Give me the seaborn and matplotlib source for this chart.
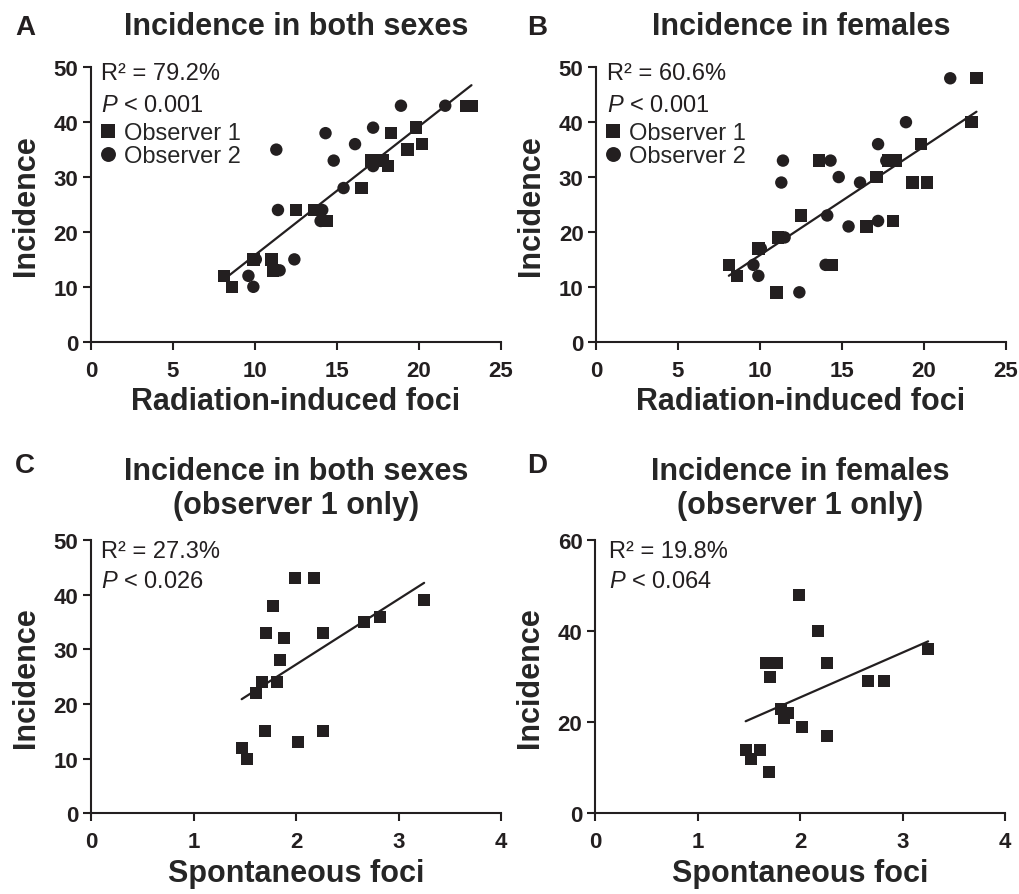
import numpy as np
import pandas as pd
import matplotlib
matplotlib.use("Agg")
import matplotlib.pyplot as plt
import seaborn as sns

# one value per mouse strain, same order in every list
radiation_obs1 = [8.1, 8.6, 9.9, 11.0, 11.1, 12.5, 13.6, 14.4, 16.5, 17.1, 17.8, 18.1, 18.3, 19.3, 19.8, 20.2, 22.9, 23.2]
radiation_obs2 = [9.6, 9.9, 10.05, 12.4, 11.5, 14.1, 11.4, 14.0, 15.4, 14.8, 17.7, 17.2, 14.3, 11.3, 17.2, 16.1, 18.9, 21.6]
spontaneous_obs1 = [1.47, 1.52, 2.26, 1.70, 2.02, 1.81, 1.67, 1.61, 1.84, 1.71, 2.26, 1.88, 1.78, 2.66, 3.25, 2.82, 2.18, 1.99]
incidence_both = [12, 10, 15, 15, 13, 24, 24, 22, 28, 33, 33, 32, 38, 35, 39, 36, 43, 43]
incidence_females = [14, 12, 17, 9, 19, 23, 33, 14, 21, 30, 33, 22, 33, 29, 36, 29, 40, 48]

stats_text = {
    "A": ("R² = 79.2%", "0.001"),
    "B": ("R² = 60.6%", "0.001"),
    "C": ("R² = 27.3%", "0.026"),
    "D": ("R² = 19.8%", "0.064"),
}
titles = {
    "A": "Incidence in both sexes",
    "B": "Incidence in females",
    "C": "Incidence in both sexes\n(observer 1 only)",
    "D": "Incidence in females\n(observer 1 only)",
}

INK = "#231f20"

sns.set_style("ticks")
plt.rcParams["font.family"] = ["Liberation Sans", "DejaVu Sans"]
plt.rcParams["mathtext.fontset"] = "custom"
plt.rcParams["mathtext.rm"] = "Liberation Sans"
plt.rcParams["mathtext.it"] = "Liberation Sans:italic"
plt.rcParams["axes.linewidth"] = 1.5
plt.rcParams["xtick.major.width"] = 1.5
plt.rcParams["ytick.major.width"] = 1.5
plt.rcParams["xtick.major.size"] = 5.5
plt.rcParams["ytick.major.size"] = 5.5
plt.rcParams["axes.edgecolor"] = INK

fig = plt.figure(figsize=(10.19, 8.95), dpi=100)
W, H = 1019, 895


def make_ax(x0, x1, ytop, ybot):
    return fig.add_axes([x0 / W, 1 - ybot / H, (x1 - x0) / W, (ybot - ytop) / H])


axA = make_ax(91, 501, 68.3, 342.7)
axB = make_ax(596, 1006, 68.3, 342.7)
axC = make_ax(91, 501, 541, 814.3)
axD = make_ax(595, 1005, 541, 814.3)


def both_observers(incidence):
    df1 = pd.DataFrame({"foci": radiation_obs1, "inc": incidence, "obs": "Observer 1"})
    df2 = pd.DataFrame({"foci": radiation_obs2, "inc": incidence, "obs": "Observer 2"})
    return pd.concat([df1, df2], ignore_index=True)


# top row: both observers, radiation-induced foci
for ax, inc in [(axA, incidence_both), (axB, incidence_females)]:
    df = both_observers(inc)
    sns.regplot(data=df, x="foci", y="inc", scatter=False, ci=None, ax=ax,
                color=INK, line_kws={"lw": 1.6})
    sns.scatterplot(data=df, x="foci", y="inc", style="obs",
                    markers={"Observer 1": "s", "Observer 2": "o"},
                    color=INK, s=80, linewidth=0, ax=ax)
    ax.set_xlim(0, 25)
    ax.set_ylim(0, 50)
    ax.set_xticks(range(0, 26, 5))
    ax.set_yticks(range(0, 51, 10))
    ax.set_xlabel("Radiation-induced foci")
    ax.legend(loc="upper left", bbox_to_anchor=(0.012, 0.80), frameon=False,
              fontsize=17, handletextpad=0.2, labelspacing=0.05,
              borderpad=0, borderaxespad=0, handlelength=1.0, markerscale=1.2)

# bottom row: observer 1 only, spontaneous foci
for ax, inc in [(axC, incidence_both), (axD, incidence_females)]:
    df = pd.DataFrame({"foci": spontaneous_obs1, "inc": inc})
    sns.regplot(data=df, x="foci", y="inc", scatter=False, ci=None, ax=ax,
                color=INK, line_kws={"lw": 1.6})
    sns.scatterplot(data=df, x="foci", y="inc", marker="s", color=INK,
                    s=80, linewidth=0, ax=ax)
    ax.set_xlim(0, 4)
    ax.set_xticks(range(0, 5))
    ax.set_xlabel("Spontaneous foci")

axC.set_ylim(0, 50)
axC.set_yticks(range(0, 51, 10))
axD.set_ylim(0, 60)
axD.set_yticks(range(0, 61, 20))

text_pos = {"A": (0.024, 0.957, 0.842), "B": (0.028, 0.957, 0.842),
            "C": (0.024, 0.939, 0.829), "D": (0.033, 0.939, 0.829)}
title_pad = {"A": 24, "B": 24, "C": 19.5, "D": 19.5}
letter_pos = {"A": (15, 35), "B": (527, 35), "C": (15, 473), "D": (527, 473)}

for key, ax in zip("ABCD", [axA, axB, axC, axD]):
    sns.despine(ax=ax)
    ax.set_ylabel("Incidence", fontsize=22, fontweight="bold", labelpad=9)
    ax.xaxis.label.set_fontsize(22)
    ax.xaxis.label.set_fontweight("bold")
    ax.xaxis.labelpad = 4
    ax.tick_params(axis="x", labelsize=16, pad=7.5, colors=INK)
    ax.tick_params(axis="y", labelsize=16, pad=3.5, colors=INK)
    for lab in ax.get_xticklabels() + ax.get_yticklabels():
        lab.set_fontweight("bold")
    ax.set_title(titles[key], fontsize=22, fontweight="bold", pad=title_pad[key],
                 linespacing=1.15)
    r2, p = stats_text[key]
    tx, y1, y2 = text_pos[key]
    ax.text(tx, y1, r2, transform=ax.transAxes, fontsize=17, va="baseline", color=INK)
    ax.text(tx, y2, r"$\mathit{P}$ < " + p, transform=ax.transAxes, fontsize=17,
            va="baseline", color=INK)
    lx, ly = letter_pos[key]
    fig.text(lx / W, 1 - ly / H, key, fontsize=20, fontweight="bold", va="baseline",
             color=INK)

fig.savefig("out.png", dpi=100)
